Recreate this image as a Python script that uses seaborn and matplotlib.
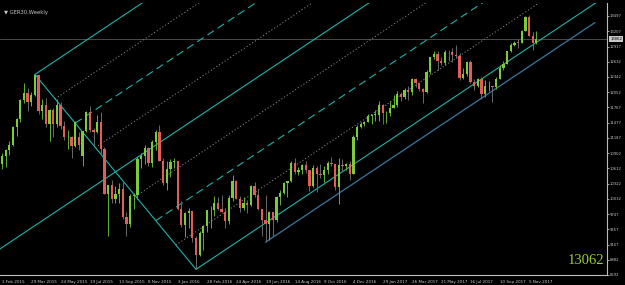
import numpy as np
import pandas as pd
import matplotlib
matplotlib.use("Agg")
import matplotlib.pyplot as plt
import seaborn as sns

# weekly GER30 candles, Feb 2015 - Nov 2017 (one row per week)
opens = [10694, 10846, 10963, 11050, 11402, 11551, 11901, 12040, 11868, 12001,
         12375, 11689, 11811, 11454, 11709, 11447, 11815, 11413, 11197, 11197,
         11041, 11200, 10850, 11315, 11673, 11347, 11309, 11490, 10985, 10124,
         10298, 10038, 10123, 10229, 9688, 9553, 10096, 10104, 10795, 10850,
         10988, 10708, 11119, 11293, 10752, 10340, 10608, 10727, 10743, 9849,
         9545, 9764, 9798, 9286, 8967, 9388, 9513, 9824, 9831, 9950,
         9851, 9794, 9622, 10051, 10373, 10039, 9870, 9952, 9917, 10286,
         10103, 9834, 9631, 9557, 9776, 9630, 10066, 10147, 10337, 10367,
         10713, 10544, 10588, 10684, 10573, 10276, 10627, 10511, 10490, 10580,
         10711, 10696, 10259, 10668, 10664, 10700, 10513, 11203, 11404, 11450,
         11481, 11599, 11629, 11630, 11814, 11651, 11666, 11757, 11804, 12027,
         11963, 12095, 12064, 12313, 12225, 12109, 12049, 12438, 12717, 12770,
         12638, 12602, 12823, 12816, 12753, 12733, 12325, 12389, 12631, 12240,
         12163, 12298, 12014, 12165, 12168, 12143, 12304, 12519, 12592, 12829,
         12956, 12992, 12991, 13217, 13478, 13127, 12993]
highs = [10905, 10985, 11130, 11417, 11560, 11920, 12219, 12130, 12060, 12390,
         12380, 11920, 11950, 11740, 11760, 11920, 11870, 11500, 11340, 11230,
         11500, 11300, 11320, 11700, 11800, 11380, 11630, 11670, 11010, 10300,
         10400, 10280, 10340, 10360, 9780, 10130, 10140, 10820, 10900, 11060,
         11010, 11140, 11330, 11430, 10800, 10760, 10780, 10800, 10750, 10000,
         9790, 9860, 9800, 9330, 9420, 9540, 9830, 9900, 10080, 10060,
         10100, 9870, 10100, 10480, 10400, 10090, 10070, 10010, 10300, 10350,
         10220, 9840, 10110, 9800, 9780, 10080, 10200, 10350, 10380, 10750,
         10800, 10640, 10700, 10760, 10580, 10680, 10650, 10700, 10660, 10760,
         10830, 10700, 10800, 10780, 10720, 10750, 11250, 11440, 11480, 11500,
         11640, 11650, 11710, 11890, 11830, 11700, 11880, 12000, 12080, 12050,
         12130, 12180, 12320, 12320, 12240, 12130, 12480, 12720, 12840, 12840,
         12720, 12860, 12860, 12890, 12950, 12790, 12520, 12640, 12660, 12310,
         12330, 12350, 12290, 12270, 12180, 12340, 12560, 12640, 12840, 12980,
         13030, 13060, 13240, 13500, 13525, 13190, 13210]
lows = [10608, 10640, 10860, 11030, 11230, 11480, 11850, 11700, 11800, 11990,
        11650, 11550, 11390, 11130, 11200, 11400, 11350, 11150, 10980, 10800,
        11020, 10950, 10650, 11300, 11300, 11050, 11280, 10880, 10120, 9338,
        9960, 9950, 9950, 9660, 9340, 9500, 9850, 10040, 10620, 10700,
        10650, 10640, 10950, 10750, 10300, 10200, 10450, 10610, 9820, 9500,
        9310, 9480, 9220, 8699, 8960, 9060, 9400, 9490, 9700, 9830,
        9780, 9480, 9560, 10000, 10030, 9780, 9830, 9770, 9900, 10070,
        9820, 9330, 9214, 9250, 9330, 9600, 9920, 10130, 10060, 10360,
        10500, 10480, 10500, 10530, 10180, 10260, 10170, 10420, 10360, 10500,
        10660, 10200, 9940, 10560, 10580, 10400, 10500, 11150, 11380, 11410,
        11480, 11460, 11500, 11500, 11450, 11470, 11600, 11750, 11780, 11890,
        11920, 11900, 12000, 12150, 12080, 11850, 12040, 12400, 12680, 12470,
        12570, 12560, 12650, 12630, 12700, 12290, 12300, 12360, 12220, 12090,
        12150, 11930, 11960, 12080, 11870, 12110, 12300, 12470, 12580, 12820,
        12930, 12900, 12980, 13210, 13120, 12850, 12970]
closes = [10846, 10963, 11050, 11402, 11551, 11901, 12040, 11868, 12001, 12375,
          11689, 11811, 11454, 11709, 11447, 11815, 11413, 11197, 11197, 11041,
          11492, 11058, 11315, 11673, 11347, 11309, 11490, 10985, 10124, 10298,
          10038, 10123, 10229, 9688, 9553, 10096, 10104, 10795, 10850, 10988,
          10708, 11119, 11293, 10752, 10340, 10608, 10727, 10743, 9849, 9545,
          9764, 9798, 9286, 8967, 9388, 9513, 9824, 9831, 9950, 9851,
          9794, 9622, 10051, 10373, 10039, 9870, 9952, 9917, 10286, 10103,
          9834, 9631, 9557, 9776, 9630, 10066, 10147, 10337, 10367, 10713,
          10544, 10588, 10684, 10573, 10276, 10627, 10511, 10490, 10580, 10711,
          10696, 10259, 10668, 10664, 10700, 10513, 11203, 11404, 11450, 11481,
          11599, 11629, 11630, 11814, 11651, 11666, 11757, 11804, 12027, 11963,
          12095, 12064, 12313, 12225, 12109, 12049, 12438, 12717, 12770, 12638,
          12602, 12823, 12816, 12753, 12733, 12325, 12389, 12631, 12240, 12163,
          12298, 12014, 12165, 12168, 12143, 12304, 12519, 12592, 12829, 12956,
          12992, 12991, 13217, 13478, 13127, 12993, 13062]

date_labels = ["1 Feb 2015", "29 Mar 2015", "24 May 2015", "19 Jul 2015",
               "13 Sep 2015", "8 Nov 2015", "3 Jan 2016", "28 Feb 2016",
               "24 Apr 2016", "19 Jun 2016", "14 Aug 2016", "9 Oct 2016",
               "4 Dec 2016", "29 Jan 2017", "26 Mar 2017", "21 May 2017",
               "16 Jul 2017", "10 Sep 2017", "5 Nov 2017"]
price_ticks = [13497, 13207, 12917, 12632, 12342, 12052, 11767, 11477, 11187,
               10902, 10612, 10322, 10032, 9747, 9457, 9167, 8882, 8592]
last_price = 13062
channel_slope = 46.2      # points per week of the drawn channel
peak_week = 9             # April 2015 top: channel anchor
trough_week = 53          # February 2016 low: channel anchor
brexit_week = 72          # start of the blue trend line
blue_end_week = 162

df = pd.DataFrame({"open": opens, "high": highs, "low": lows, "close": closes})
df["week"] = np.arange(len(df))
up = df["close"] >= df["open"]

sns.set_theme(style="dark", rc={"axes.facecolor": "#000000",
                                "figure.facecolor": "#000000"})
plt.rcParams["font.family"] = ["DejaVu Sans"]

fig = plt.figure(figsize=(6.25, 2.85), dpi=100)
ax = fig.add_axes([0.0, 10 / 285, 607 / 625, 272 / 285])
ax.set_facecolor("#000000")

cyan = "#20b2aa"
grey_dot = "#8a8a8a"

# current price line
ax.axhline(last_price, color="#4a4a4a", lw=0.7, zorder=1)

# wicks
ax.vlines(df.loc[up, "week"], df.loc[up, "low"], df.loc[up, "high"],
          color="#5fb030", lw=0.7, zorder=3)
ax.vlines(df.loc[~up, "week"], df.loc[~up, "low"], df.loc[~up, "high"],
          color="#6a6a6a", lw=0.7, zorder=3)
# bodies
body_w = 0.62
ax.bar(df.loc[up, "week"], (df.loc[up, "close"] - df.loc[up, "open"]).clip(lower=8),
       bottom=df.loc[up, "open"], width=body_w, color="#7ccc3a", lw=0, zorder=4)
ax.bar(df.loc[~up, "week"], (df.loc[~up, "open"] - df.loc[~up, "close"]).clip(lower=8),
       bottom=df.loc[~up, "close"], width=body_w, color="#e25c5c", lw=0, zorder=4)

# channel: parallel rays starting on the line from the peak to the trough
p_x, p_y = peak_week, df.loc[peak_week, "high"]
t_x, t_y = trough_week, df.loc[trough_week, "low"]
ax.plot([p_x, t_x], [p_y, t_y], color=cyan, lw=0.8, zorder=2)
x_end = 175
for k in range(9):
    f = k / 8
    sx = p_x + f * (t_x - p_x)
    sy = p_y + f * (t_y - p_y)
    if k == 4:
        sx0 = -5
        sy0 = sy - (sx - sx0) * channel_slope
    else:
        sx0, sy0 = sx, sy
    ey = sy + (x_end - sx) * channel_slope
    if k % 4 == 0:
        style = dict(color=cyan, lw=0.8, ls="-")
    elif k % 2 == 0:
        style = dict(color=cyan, lw=0.8, ls=(0, (7, 4)))
    else:
        style = dict(color=grey_dot, lw=0.7, ls=(0, (1.2, 2.2)))
    ax.plot([sx0, x_end], [sy0, ey], zorder=2, **style)

# blue trend line from the mid-2016 low
b_y = df.loc[brexit_week, "low"]
ax.plot([brexit_week, blue_end_week],
        [b_y, b_y + (blue_end_week - brexit_week) * channel_slope],
        color="#3a78a0", lw=0.9, zorder=2)

ax.set_xlim(-0.55, 165.3)
ax.set_ylim(8592, 13743)

# axes styling
for s in ["top", "left"]:
    ax.spines[s].set_visible(False)
for s in ["right", "bottom"]:
    ax.spines[s].set_color("#bcbcbc")
    ax.spines[s].set_linewidth(0.8)
ax.grid(False)

ax.set_xticks(np.arange(0, len(date_labels) * 8, 8))
ax.set_xticklabels(date_labels, ha="left")
ax.yaxis.tick_right()
ax.set_yticks(price_ticks)
ax.set_yticklabels([str(v) for v in price_ticks])
ax.tick_params(axis="x", colors="#bcbcbc", labelcolor="#c8c8c8",
               labelsize=3.0, length=2.5, width=0.6, direction="out", pad=1.2)
ax.tick_params(axis="y", colors="#bcbcbc", labelcolor="#c8c8c8",
               labelsize=2.7, length=1.5, width=0.6, direction="out", pad=0.6)

# current price tag on the axis
ax.text(1.005, last_price, str(last_price), transform=ax.get_yaxis_transform(),
        fontsize=2.7, color="#000000", va="center", ha="left",
        bbox=dict(boxstyle="square,pad=0.2", fc="#c8c8c8", ec="none"), zorder=6,
        clip_on=False)

# symbol caption and big price
ax.text(0.006, 0.975, "\u25bc GER30,Weekly", transform=ax.transAxes,
        fontsize=3.8, color="#c8c8c8", va="top", ha="left")
ax.text(0.995, 0.055, str(last_price), transform=ax.transAxes,
        fontsize=10.5, color="#9acd32", family=["Liberation Serif"],
        va="center", ha="right")

fig.savefig("out.png", dpi=100, facecolor="#000000")
